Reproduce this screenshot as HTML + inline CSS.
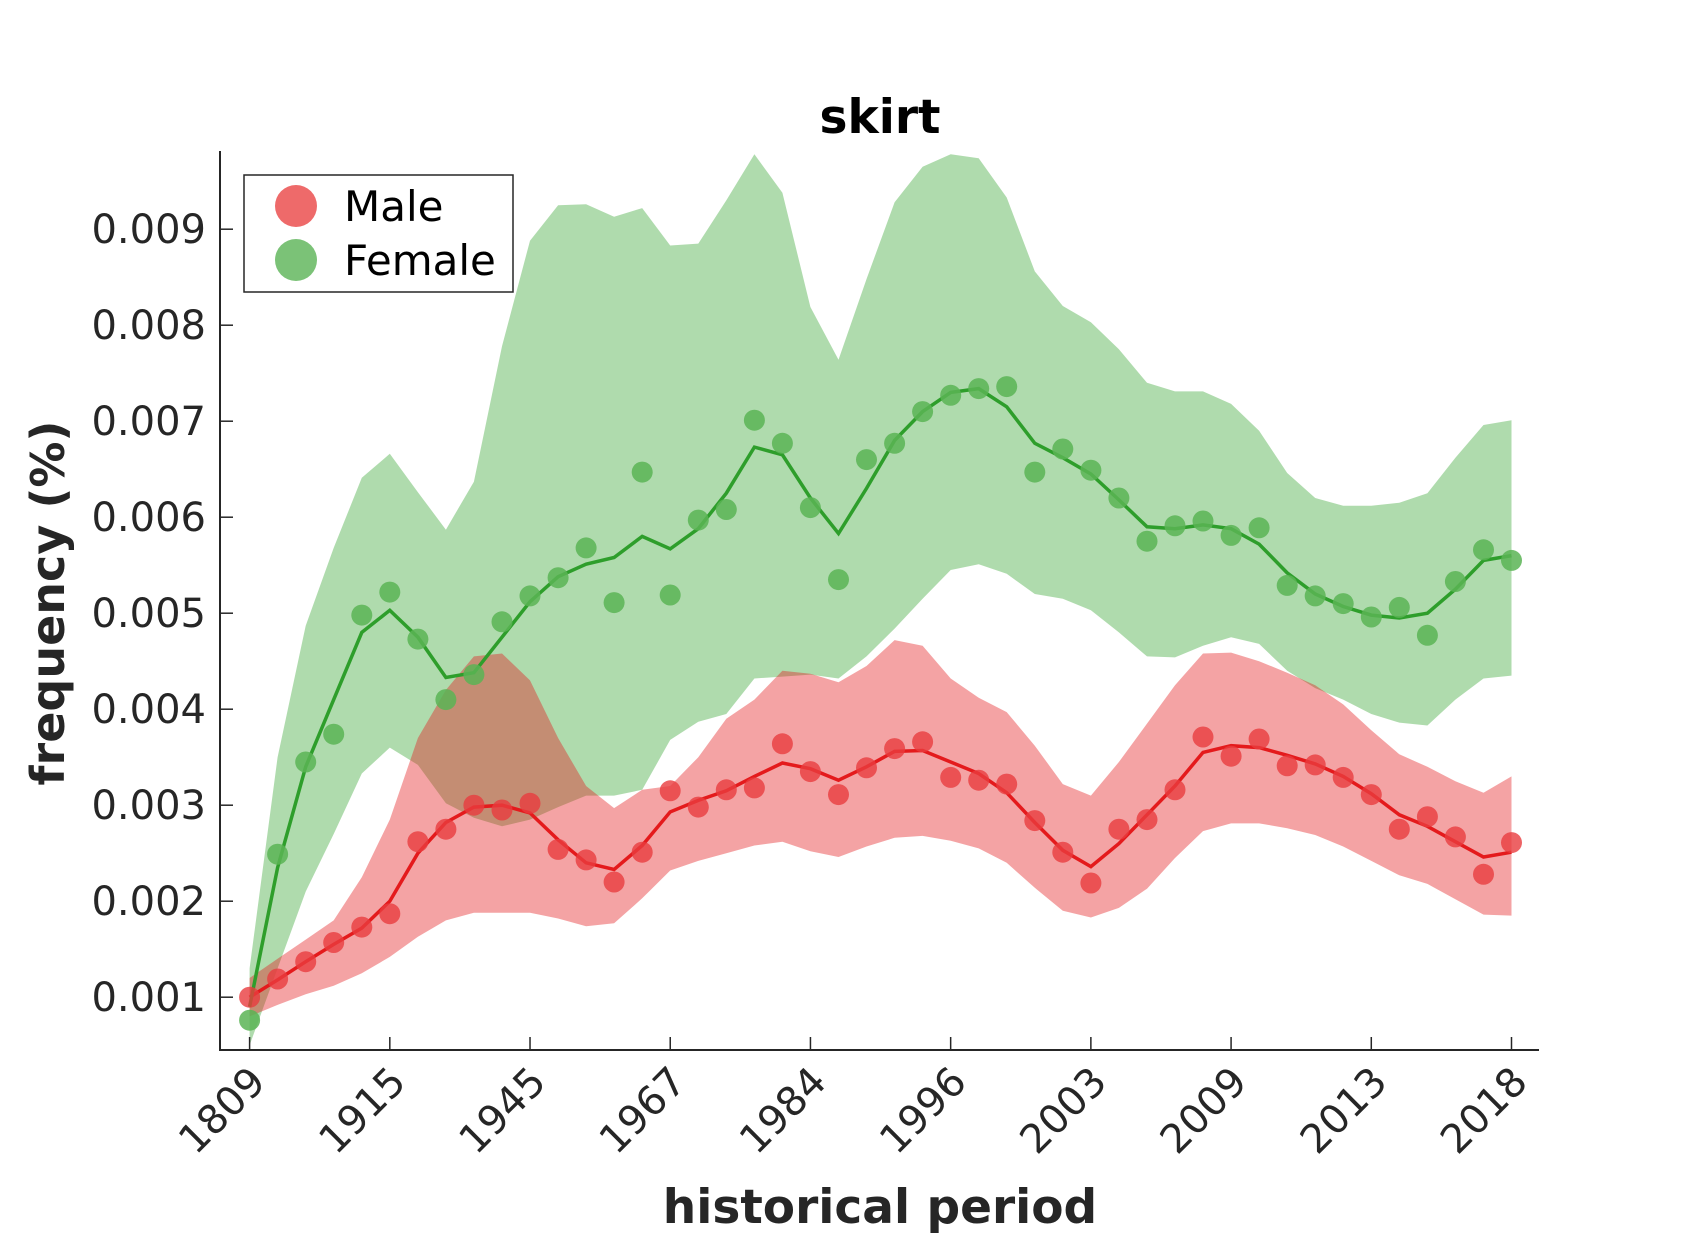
<!DOCTYPE html>
<html><head><meta charset="utf-8"><style>body{margin:0;background:#fff}svg{display:block;font-family:"DejaVu Sans","Liberation Sans",sans-serif}</style></head>
<body>
<svg id="chart" width="1700" height="1246" viewBox="0 0 1700 1246" xmlns="http://www.w3.org/2000/svg">
<rect width="1700" height="1246" fill="#fff"/>
<g id="bands"></g><g id="lines"></g><g id="points"></g><g id="axes"></g>
<text x="880" y="133" text-anchor="middle" font-size="47" font-weight="bold" fill="#000">skirt</text>
<text x="880" y="1223" text-anchor="middle" font-size="47" font-weight="bold" fill="#262626">historical period</text>
<text transform="translate(64,603) rotate(-90)" text-anchor="middle" font-size="46" font-weight="bold" fill="#262626">frequency (%)</text>
<g>
<rect x="244" y="175" width="269" height="117" fill="#fff" stroke="#262626" stroke-width="1.5"/>
<circle cx="296" cy="206" r="21" fill="#ee6a6a"/>
<circle cx="296" cy="260" r="21" fill="#7bc277"/>
<text x="344" y="221" font-size="42" fill="#000">Male</text>
<text x="344" y="275" font-size="42" fill="#000">Female</text>
</g>
</svg>
<script>
const tickLabels=["1809","1915","1945","1967","1984","1996","2003","2009","2013","2018"];
const yTicks=[0.001,0.002,0.003,0.004,0.005,0.006,0.007,0.008,0.009];
const malePoints=[0.00100,0.00119,0.00137,0.00157,0.00173,0.00187,0.00262,0.00275,0.00300,0.00295,0.00302,0.00254,0.00243,0.00220,0.00251,0.00315,0.00298,0.00316,0.00318,0.00364,0.00335,0.00311,0.00339,0.00359,0.00366,0.00329,0.00326,0.00322,0.00284,0.00251,0.00219,0.00275,0.00285,0.00316,0.00371,0.00351,0.00369,0.00341,0.00342,0.00329,0.00311,0.00275,0.00288,0.00267,0.00228,0.00261];
const maleLine=[0.00100,0.00118,0.00137,0.00155,0.00172,0.00200,0.00250,0.00282,0.00298,0.00300,0.00292,0.00264,0.00240,0.00233,0.00258,0.00293,0.00305,0.00315,0.00330,0.00344,0.00338,0.00326,0.00340,0.00356,0.00357,0.00345,0.00333,0.00313,0.00282,0.00253,0.00236,0.00260,0.00290,0.00320,0.00355,0.00362,0.00360,0.00352,0.00343,0.00330,0.00312,0.00290,0.00278,0.00262,0.00246,0.00251];
const maleUpper=[0.00120,0.00140,0.00160,0.00180,0.00225,0.00285,0.00370,0.00420,0.00455,0.00458,0.00430,0.00370,0.00320,0.00297,0.00316,0.00320,0.00350,0.00390,0.00410,0.00440,0.00437,0.00428,0.00445,0.00472,0.00466,0.00432,0.00412,0.00397,0.00362,0.00322,0.00310,0.00345,0.00385,0.00425,0.00458,0.00459,0.00450,0.00438,0.00425,0.00405,0.00378,0.00353,0.00340,0.00325,0.00313,0.00330];
const maleLower=[0.00080,0.00092,0.00103,0.00112,0.00125,0.00142,0.00163,0.00180,0.00188,0.00188,0.00188,0.00182,0.00174,0.00177,0.00203,0.00232,0.00242,0.00250,0.00258,0.00262,0.00252,0.00246,0.00257,0.00266,0.00268,0.00263,0.00255,0.00240,0.00214,0.00190,0.00183,0.00193,0.00213,0.00245,0.00273,0.00281,0.00281,0.00276,0.00269,0.00257,0.00242,0.00227,0.00218,0.00202,0.00186,0.00185];
const femalePoints=[0.00076,0.00249,0.00345,0.00374,0.00498,0.00522,0.00473,0.00410,0.00436,0.00491,0.00518,0.00537,0.00568,0.00511,0.00647,0.00519,0.00597,0.00608,0.00701,0.00677,0.00610,0.00535,0.00660,0.00677,0.00710,0.00727,0.00734,0.00736,0.00647,0.00671,0.00649,0.00620,0.00575,0.00591,0.00596,0.00581,0.00589,0.00529,0.00518,0.00510,0.00496,0.00506,0.00477,0.00533,0.00566,0.00555];
const femaleLine=[0.00090,0.00235,0.00340,0.00410,0.00480,0.00503,0.00475,0.00433,0.00438,0.00475,0.00512,0.00538,0.00551,0.00558,0.00580,0.00567,0.00588,0.00625,0.00673,0.00665,0.00620,0.00583,0.00630,0.00680,0.00710,0.00730,0.00734,0.00715,0.00677,0.00662,0.00645,0.00618,0.00590,0.00588,0.00592,0.00588,0.00572,0.00542,0.00520,0.00507,0.00498,0.00495,0.00500,0.00525,0.00555,0.00560];
const femaleUpper=[0.00130,0.00350,0.00487,0.00568,0.00641,0.00666,0.00626,0.00587,0.00637,0.00778,0.00888,0.00925,0.00926,0.00913,0.00922,0.00883,0.00885,0.00930,0.00978,0.00938,0.00819,0.00764,0.00848,0.00928,0.00965,0.00978,0.00974,0.00933,0.00856,0.00820,0.00803,0.00775,0.00740,0.00731,0.00731,0.00718,0.00690,0.00646,0.00620,0.00612,0.00612,0.00615,0.00625,0.00662,0.00696,0.00701];
const femaleLower=[0.00050,0.00130,0.00210,0.00270,0.00333,0.00360,0.00342,0.00302,0.00287,0.00278,0.00285,0.00298,0.00310,0.00310,0.00316,0.00368,0.00387,0.00395,0.00432,0.00434,0.00436,0.00432,0.00455,0.00484,0.00515,0.00545,0.00551,0.00541,0.00520,0.00515,0.00503,0.00480,0.00455,0.00454,0.00466,0.00475,0.00468,0.00440,0.00422,0.00410,0.00395,0.00386,0.00383,0.00410,0.00432,0.00435];

const NS="http://www.w3.org/2000/svg";
const L=220,R=1539,T=151,B=1050;
const n=malePoints.length;
const x0=249.6,x1=1511.5;
function xs(i){return x0+(x1-x0)*i/(n-1);}
function ys(v){return 997.2-(v-0.001)*96000;}
function mk(tag,parent,attrs){const e=document.createElementNS(NS,tag);for(const k in attrs)e.setAttribute(k,attrs[k]);document.getElementById(parent).appendChild(e);return e;}
function band(up,lo,fill,name){
  let d="M"+up.map((v,i)=>xs(i).toFixed(1)+","+ys(v).toFixed(1)).join("L");
  for(let i=lo.length-1;i>=0;i--)d+="L"+xs(i).toFixed(1)+","+ys(lo[i]).toFixed(1);
  const e=mk("path","bands",{d:d+"Z",fill:fill});
  
  
}
band(femaleUpper,femaleLower,"rgba(77,175,74,0.45)","female-confidence-band");
band(maleUpper,maleLower,"rgba(228,26,28,0.4)","male-confidence-band");
function line(vals,col,name){
  const e=mk("polyline","lines",{points:vals.map((v,i)=>xs(i).toFixed(1)+","+ys(v).toFixed(1)).join(" "),fill:"none",stroke:col,"stroke-width":3.5});
  
  
}
line(maleLine,"#e41a1c","male-trend-line");
line(femaleLine,"#2e9e2b","female-trend-line");
function pts(vals,col,name){
  vals.forEach((v,i)=>{
    const e=mk("circle","points",{cx:xs(i).toFixed(1),cy:ys(v).toFixed(1),r:10.5,fill:col});
    
    
  });
}
pts(malePoints,"rgba(232,60,62,0.8)","male-point");
pts(femalePoints,"rgba(90,180,85,0.85)","female-point");
let e=mk("path","axes",{d:`M${L},${T}V${B}H${R}`,fill:"none",stroke:"#262626","stroke-width":2});


yTicks.forEach(v=>{
  const y=ys(v);
  mk("line","axes",{x1:L,x2:L+13,y1:y,y2:y,stroke:"#262626","stroke-width":1.5});
  const t=mk("text","axes",{x:L-14,y:y+14,"text-anchor":"end","font-size":40,fill:"#262626"});
  t.textContent=v.toFixed(3);
  
  
});
tickLabels.forEach((lab,k)=>{
  const x=xs(k*5);
  mk("line","axes",{x1:x,x2:x,y1:B,y2:B-13,stroke:"#262626","stroke-width":1.5});
  const t=mk("text","axes",{x:0,y:0,"text-anchor":"end","font-size":40,fill:"#262626",transform:`translate(${x+18},${B+34}) rotate(-45)`});
  t.textContent=lab;
  
  
});
</script>
</body></html>
